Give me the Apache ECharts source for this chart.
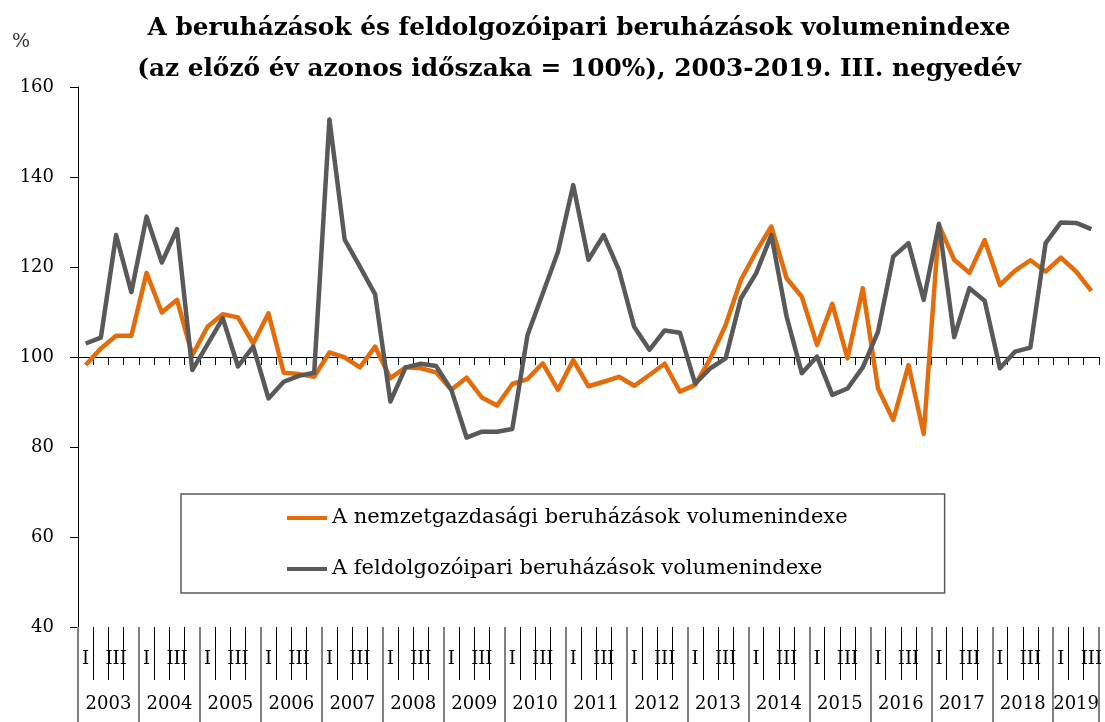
<!DOCTYPE html>
<html lang="hu">
<head>
<meta charset="utf-8">
<title>Beruházások volumenindexe</title>
<script src="https://cdn.jsdelivr.net/npm/echarts@6/dist/echarts.min.js"></script>
</head>
<body style="margin:0">
<div id="main" style="width:1105px;height:722px;"></div>
<script type="text/javascript">
    // evek es negyedevek (2019-ben csak I-III. negyedev)
    var years = ['2003','2004','2005','2006','2007','2008','2009','2010','2011',
                 '2012','2013','2014','2015','2016','2017','2018','2019'];
    var quarterNames = ['I', '', 'III', ''];
    var yTicks = [40, 60, 80, 100, 120, 140, 160];

    // A nemzetgazdasagi beruhazasok volumenindexe, %
    var nemzetgazdasagi = [
        98.2, 101.9, 104.7, 104.7, 118.7, 109.9, 112.7, 100.4,
        106.7, 109.5, 108.8, 103.0, 109.7, 96.5, 96.2, 95.6,
        101.0, 99.9, 97.7, 102.3, 95.3, 97.7, 97.5, 96.6,
        92.7, 95.4, 91.0, 89.2, 94.0, 95.1, 98.6, 92.7,
        99.3, 93.5, 94.5, 95.6, 93.6, 96.0, 98.5, 92.3,
        93.8, 99.7, 107.1, 117.1, 123.4, 129.0, 117.5, 113.4,
        102.7, 111.8, 99.7, 115.3, 93.0, 86.0, 98.2, 82.9,
        129.3, 121.6, 118.7, 126.0, 116.0, 119.2, 121.5, 119.0,
        122.1, 119.0, 114.7
    ];
    // A feldolgozoipari beruhazasok volumenindexe, %
    var feldolgozoipari = [
        103.0, 104.3, 127.1, 114.4, 131.2, 121.0, 128.4, 97.1,
        102.8, 108.6, 97.9, 102.3, 90.8, 94.5, 95.8, 96.5,
        152.8, 126.1, 120.1, 113.9, 90.1, 97.7, 98.5, 98.0,
        92.7, 82.1, 83.4, 83.4, 84.0, 104.9, 114.1, 123.4,
        138.2, 121.6, 127.1, 119.3, 106.7, 101.6, 105.9, 105.4,
        94.1, 97.5, 99.7, 113.0, 118.6, 127.1, 109.0, 96.4,
        100.1, 91.6, 93.0, 97.7, 105.6, 122.3, 125.3, 112.7,
        129.6, 104.4, 115.3, 112.5, 97.5, 101.2, 102.1, 125.3,
        129.9, 129.8, 128.4
    ];

    var n = nemzetgazdasagi.length;
    var categories = [], quarterLabels = [];
    var yearBounds = [], yearCenters = [];
    for (var k = 0; k < years.length; k++) {
        var start = categories.length;
        for (var q = 0; q < 4 && categories.length < n; q++) {
            categories.push(years[k] + '. ' + (q + 1) + '. n.év');
            quarterLabels.push(quarterNames[q]);
        }
        yearBounds.push(start);
        yearCenters.push((start + categories.length) / 2);
    }
    yearBounds.push(n);

    var serif = 'DejaVu Serif';
    var myChart = echarts.init(document.getElementById('main'));
    var option = {
        animation: false,
        title: [{
            text: 'A beruházások és feldolgozóipari beruházások volumenindexe\n(az előző év azonos időszaka = 100%), 2003-2019. III. negyedév',
            left: 579,
            top: 8,
            padding: 0,
            textAlign: 'center',
            textStyle: {fontFamily: serif, fontSize: 24.8, fontWeight: 'bold', color: '#000', lineHeight: 41}
        }, {
            text: '%',
            left: 12,
            top: 33,
            padding: 0,
            textStyle: {fontFamily: serif, fontSize: 19, fontWeight: 'normal', color: '#333'}
        }],
        legend: {
            orient: 'vertical',
            left: 181,
            top: 494,
            padding: [13, 97, 13, 106],
            itemGap: 29,
            itemWidth: 40,
            itemHeight: 4,
            icon: 'rect',
            borderColor: '#595959',
            borderWidth: 1.5,
            textStyle: {fontFamily: serif, fontSize: 21, color: '#000', lineHeight: 22}
        },
        grid: {left: 78, right: 5, top: 87, bottom: 95},
        xAxis: [{
            // vizszintes tengely a 100-as szinten
            type: 'category',
            data: categories,
            position: 'bottom',
            offset: -270,
            boundaryGap: true,
            axisLine: {onZero: false, lineStyle: {color: '#000', width: 1}},
            axisTick: {show: true, interval: 0, length: 8, lineStyle: {color: '#000'}},
            axisLabel: {show: false},
            splitLine: {show: false}
        }, {
            // negyedev feliratok
            type: 'category',
            data: categories,
            position: 'bottom',
            boundaryGap: true,
            axisLine: {show: false, onZero: false},
            axisTick: {show: true, interval: 0, length: 53, lineStyle: {color: '#000', width: 1}},
            axisLabel: {
                interval: 0, margin: 23,
                fontFamily: serif, fontSize: 18, color: '#000',
                formatter: function (v, i) { return quarterLabels[i]; }
            },
            splitLine: {show: false}
        }, {
            // ev feliratok
            type: 'value',
            min: 0,
            max: n,
            position: 'bottom',
            axisLine: {show: false, onZero: false},
            axisTick: {show: true, customValues: yearBounds, length: 95, lineStyle: {color: '#808080', width: 2}},
            axisLabel: {
                customValues: yearCenters, margin: 68,
                fontFamily: serif, fontSize: 18, color: '#000',
                formatter: function (v) { return years[Math.floor(v / 4)]; }
            },
            splitLine: {show: false}
        }],
        yAxis: {
            type: 'value',
            min: yTicks[0],
            max: yTicks[yTicks.length - 1],
            interval: 20,
            axisLine: {show: true, lineStyle: {color: '#000', width: 1}},
            axisTick: {show: true, length: 8, lineStyle: {color: '#000'}},
            axisLabel: {margin: 24, fontFamily: serif, fontSize: 18, color: '#000'},
            splitLine: {show: false}
        },
        series: [{
            name: 'A nemzetgazdasági beruházások volumenindexe',
            type: 'line',
            data: nemzetgazdasagi,
            symbol: 'none',
            color: '#E46C0A',
            lineStyle: {width: 4.5, color: '#E46C0A', join: 'round'}
        }, {
            name: 'A feldolgozóipari beruházások volumenindexe',
            type: 'line',
            data: feldolgozoipari,
            symbol: 'none',
            color: '#595959',
            lineStyle: {width: 4.5, color: '#595959', join: 'round'}
        }]
    };
    myChart.setOption(option);
</script>
</body>
</html>
